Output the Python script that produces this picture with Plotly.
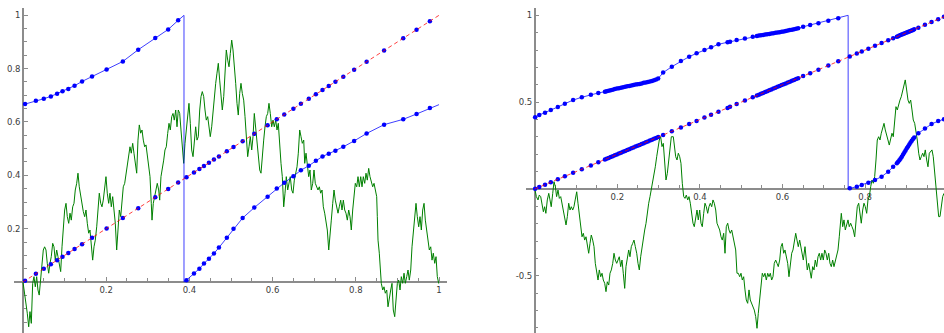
import plotly.graph_objects as go

# ---------------- LEFT PANEL DATA ----------------
# orbit points: x positions and their image f(x)
left_orbit_x = [0.005, 0.031, 0.050, 0.067, 0.082, 0.095, 0.109, 0.124, 0.142, 0.166,
                0.201, 0.240, 0.277, 0.318, 0.349, 0.373,
                0.393, 0.411, 0.424, 0.435, 0.447, 0.459, 0.471, 0.490, 0.506, 0.528,
                0.556, 0.588, 0.610, 0.628, 0.650, 0.668, 0.687, 0.704, 0.720, 0.735,
                0.751, 0.770, 0.796, 0.826, 0.868, 0.914, 0.946, 0.978]
left_orbit_fx = [0.667, 0.680, 0.687, 0.696, 0.706, 0.715, 0.724, 0.736, 0.752, 0.771,
                 0.797, 0.827, 0.871, 0.915, 0.947, 0.981,
                 0.007, 0.032, 0.050, 0.069, 0.087, 0.107, 0.129, 0.166, 0.200, 0.240,
                 0.279, 0.320, 0.351, 0.372, 0.397, 0.419, 0.436, 0.455, 0.471, 0.481,
                 0.492, 0.507, 0.529, 0.557, 0.590, 0.610, 0.630, 0.652]
left_jump_x = 0.387
left_f_start = 0.665
left_f_end = 0.665

left_walk_x = [0.0, 0.0055, 0.0103, 0.0137, 0.0168, 0.020, 0.0233, 0.0264, 0.0296, 0.0329,
               0.036, 0.039, 0.0425, 0.0457, 0.0488, 0.052, 0.0553, 0.0584, 0.0618, 0.0649,
               0.068, 0.0714, 0.0745, 0.0776, 0.081, 0.0841, 0.0873, 0.0906, 0.0938, 0.0969,
               0.1002, 0.1034, 0.1065, 0.1099, 0.113, 0.1161, 0.1195, 0.1226, 0.1257, 0.1291,
               0.1322, 0.1353, 0.1387, 0.1418, 0.145, 0.1483, 0.1514, 0.1546, 0.1579, 0.161,
               0.1642, 0.1675, 0.1707, 0.1738, 0.1772, 0.1803, 0.1834, 0.1868, 0.1899, 0.193,
               0.1964, 0.1995, 0.2026, 0.206, 0.2091, 0.2123, 0.2156, 0.2188, 0.2219, 0.2252,
               0.2284, 0.2315, 0.2349, 0.238, 0.2411, 0.2445, 0.2476, 0.2507, 0.2541, 0.2572,
               0.2603, 0.2637, 0.2668, 0.27, 0.2733, 0.2764, 0.2796, 0.2829, 0.2861, 0.2892,
               0.2925, 0.2957, 0.2988, 0.3022, 0.3053, 0.3084, 0.3101, 0.3132, 0.3166, 0.3197,
               0.3228, 0.3262, 0.3286, 0.3317, 0.3349, 0.3382, 0.3413, 0.3445, 0.3478, 0.351,
               0.3541, 0.3575, 0.3606, 0.3637, 0.3671, 0.3702, 0.3733, 0.3767, 0.3798, 0.3829,
               0.3863, 0.3894, 0.3925, 0.3959, 0.399, 0.4022, 0.4055, 0.4087, 0.4118, 0.4151,
               0.4183, 0.4214, 0.4248, 0.4279, 0.431, 0.4344, 0.4375, 0.4406, 0.444, 0.4471,
               0.4502, 0.4536, 0.4567, 0.4599, 0.4632, 0.4663, 0.4695, 0.4728, 0.476, 0.4791,
               0.4825, 0.4856, 0.4887, 0.4921, 0.4952, 0.4983, 0.5017, 0.5048, 0.5079, 0.5113,
               0.5144, 0.5175, 0.5209, 0.524, 0.5272, 0.5305, 0.5337, 0.5368, 0.5401, 0.5433,
               0.5464, 0.5498, 0.5529, 0.556, 0.5594, 0.5625, 0.5656, 0.569, 0.5721, 0.5752,
               0.5786, 0.5817, 0.5849, 0.5882, 0.5913, 0.5945, 0.5978, 0.601, 0.6041, 0.6075,
               0.6106, 0.6137, 0.6171, 0.6202, 0.6233, 0.6267, 0.6298, 0.6329, 0.6363, 0.6394,
               0.6425, 0.6459, 0.649, 0.6522, 0.6555, 0.6587, 0.6618, 0.6651, 0.6683, 0.6714,
               0.6748, 0.6772, 0.6803, 0.6834, 0.6868, 0.6899, 0.693, 0.6964, 0.6995, 0.7026,
               0.706, 0.7091, 0.7123, 0.7156, 0.7188, 0.7219, 0.7252, 0.7284, 0.7315, 0.7349,
               0.738, 0.7411, 0.7445, 0.7476, 0.7507, 0.7541, 0.7572, 0.7603, 0.7637, 0.7668,
               0.77, 0.7733, 0.7764, 0.7796, 0.7829, 0.7861, 0.7892, 0.7925, 0.7957, 0.7988,
               0.8022, 0.8053, 0.8084, 0.8118, 0.8149, 0.818, 0.8214, 0.8245, 0.8276, 0.831,
               0.8341, 0.8373, 0.8406, 0.8438, 0.8469, 0.8502, 0.8517, 0.8534, 0.8565, 0.8599,
               0.8613, 0.8647, 0.8678, 0.8709, 0.8743, 0.8774, 0.8805, 0.8839, 0.887, 0.8901,
               0.8935, 0.8966, 0.8998, 0.9031, 0.9063, 0.9094, 0.9127, 0.9159, 0.919, 0.9224,
               0.9255, 0.9286, 0.932, 0.9351, 0.9382, 0.9416, 0.9447, 0.9478, 0.9512, 0.9543,
               0.9575, 0.9608, 0.964, 0.9671, 0.9704, 0.9736, 0.9767, 0.9801, 0.9832, 0.9863,
               0.9897, 0.9928, 0.9959, 0.9993, 1.0]
left_walk_y = [0.0, -0.055, -0.117, -0.168, -0.111, -0.155, -0.005, 0.020, -0.018, 0.020,
               -0.030, -0.049, 0.020, 0.070, 0.120, 0.132, 0.120, 0.070, 0.033, 0.070,
               0.095, 0.145, 0.132, 0.082, 0.120, 0.095, 0.070, 0.039, 0.132, 0.207,
               0.270, 0.295, 0.245, 0.220, 0.258, 0.232, 0.282, 0.295, 0.345, 0.370,
               0.408, 0.357, 0.320, 0.295, 0.264, 0.245, 0.270, 0.220, 0.183, 0.195,
               0.145, 0.082, 0.132, 0.157, 0.207, 0.282, 0.333, 0.295, 0.282, 0.307,
               0.357, 0.395, 0.333, 0.295, 0.333, 0.282, 0.320, 0.258, 0.220, 0.120,
               0.220, 0.270, 0.245, 0.295, 0.357, 0.370, 0.408, 0.432, 0.470, 0.507,
               0.483, 0.520, 0.483, 0.445, 0.408, 0.532, 0.589, 0.558, 0.570, 0.532,
               0.507, 0.514, 0.470, 0.420, 0.395, 0.295, 0.232, 0.295, 0.320, 0.345,
               0.370, 0.345, 0.307, 0.395, 0.420, 0.457, 0.495, 0.507, 0.557, 0.595,
               0.570, 0.620, 0.632, 0.607, 0.645, 0.582, 0.645, 0.632, 0.570, 0.507,
               0.445, 0.520, 0.570, 0.632, 0.670, 0.595, 0.495, 0.470, 0.520, 0.582,
               0.532, 0.545, 0.645, 0.695, 0.714, 0.695, 0.645, 0.607, 0.620, 0.582,
               0.545, 0.582, 0.645, 0.695, 0.745, 0.783, 0.820, 0.757, 0.695, 0.645,
               0.695, 0.795, 0.870, 0.832, 0.807, 0.857, 0.907, 0.870, 0.820, 0.745,
               0.670, 0.626, 0.707, 0.745, 0.707, 0.682, 0.620, 0.532, 0.470, 0.507,
               0.545, 0.495, 0.545, 0.632, 0.582, 0.520, 0.495, 0.420, 0.408, 0.483,
               0.532, 0.582, 0.620, 0.632, 0.670, 0.632, 0.582, 0.607, 0.582, 0.607,
               0.570, 0.595, 0.507, 0.445, 0.395, 0.282, 0.333, 0.395, 0.345, 0.370,
               0.395, 0.345, 0.333, 0.382, 0.408, 0.432, 0.483, 0.570, 0.545, 0.520,
               0.532, 0.445, 0.483, 0.445, 0.395, 0.420, 0.345, 0.370, 0.420, 0.370,
               0.357, 0.345, 0.357, 0.333, 0.345, 0.282, 0.258, 0.220, 0.195, 0.120,
               0.195, 0.232, 0.295, 0.345, 0.307, 0.282, 0.258, 0.282, 0.307, 0.270,
               0.307, 0.270, 0.258, 0.232, 0.270, 0.245, 0.195, 0.270, 0.320, 0.370,
               0.357, 0.395, 0.357, 0.395, 0.357, 0.395, 0.370, 0.408, 0.382, 0.426,
               0.395, 0.370, 0.357, 0.370, 0.345, 0.320, 0.245, 0.157, 0.108, 0.045,
               -0.005, -0.030, -0.018, -0.042, -0.030, -0.093, -0.055, -0.030, -0.005, -0.105,
               -0.130, -0.055, -0.005, 0.007, -0.030, 0.020, -0.005, 0.033, -0.005, 0.020,
               0.045, 0.007, 0.045, 0.132, 0.195, 0.245, 0.295, 0.245, 0.207, 0.245,
               0.195, 0.270, 0.295, 0.232, 0.195, 0.170, 0.120, 0.132, 0.082, 0.108,
               0.070, 0.095, 0.020, -0.005, -0.004]

# ---------------- RIGHT PANEL DATA ----------------
right_orbit_x = [0.001, 0.011, 0.025, 0.039, 0.056, 0.073, 0.093, 0.114, 0.136, 0.154, 0.170,
                 0.174, 0.179, 0.184, 0.189, 0.194, 0.199, 0.204, 0.209, 0.214, 0.219, 0.224,
                 0.229, 0.234, 0.239, 0.244, 0.249, 0.254, 0.259, 0.264, 0.269, 0.274, 0.279,
                 0.284, 0.289, 0.294, 0.299,
                 0.311, 0.332, 0.354, 0.374, 0.392, 0.411, 0.427, 0.445, 0.467, 0.473, 0.489,
                 0.509, 0.528,
                 0.538, 0.543, 0.548, 0.553, 0.558, 0.563, 0.568, 0.573, 0.578, 0.583, 0.588,
                 0.593, 0.598, 0.603, 0.608, 0.613, 0.618, 0.623, 0.628, 0.633, 0.638,
                 0.650, 0.667, 0.687, 0.711, 0.735,
                 0.763, 0.780, 0.792, 0.808, 0.824, 0.840, 0.856, 0.868,
                 0.877, 0.880, 0.883, 0.886, 0.889, 0.892, 0.895, 0.898, 0.901, 0.904, 0.907,
                 0.910, 0.913, 0.916, 0.919,
                 0.929, 0.945, 0.961, 0.977, 0.991]
right_orbit_fx = [0.413, 0.426, 0.439, 0.455, 0.472, 0.491, 0.512, 0.528, 0.543, 0.553, 0.560,
                  0.563, 0.566, 0.569, 0.572, 0.575, 0.578, 0.580, 0.583, 0.586, 0.588, 0.591,
                  0.593, 0.596, 0.598, 0.601, 0.603, 0.605, 0.608, 0.611, 0.613, 0.616, 0.619,
                  0.622, 0.626, 0.630, 0.636,
                  0.670, 0.704, 0.737, 0.762, 0.781, 0.800, 0.816, 0.833, 0.845, 0.848, 0.858,
                  0.867, 0.877,
                  0.881, 0.883, 0.885, 0.887, 0.889, 0.891, 0.893, 0.895, 0.897, 0.899, 0.901,
                  0.903, 0.905, 0.907, 0.910, 0.912, 0.915, 0.917, 0.920, 0.922, 0.925,
                  0.934, 0.944, 0.954, 0.969, 0.983,
                  0.004, 0.013, 0.023, 0.036, 0.052, 0.071, 0.100, 0.128,
                  0.148, 0.157, 0.166, 0.176, 0.186, 0.198, 0.210, 0.222, 0.234, 0.245, 0.256,
                  0.267, 0.278, 0.288, 0.296,
                  0.321, 0.349, 0.374, 0.391, 0.401]
right_jump_x = 0.759
right_f_start = 0.413

right_walk_x = [0.0, 0.004, 0.008, 0.011, 0.0145, 0.0177, 0.021, 0.024, 0.027, 0.0305,
                0.034, 0.037, 0.040, 0.0436, 0.0467, 0.050, 0.053, 0.0564, 0.0596, 0.063,
                0.066, 0.069, 0.0726, 0.0758, 0.079, 0.0823, 0.0855, 0.0886, 0.092, 0.095,
                0.098, 0.1017, 0.1048, 0.108, 0.1114, 0.1145, 0.1177, 0.121, 0.1242, 0.1274,
                0.1307, 0.1339, 0.137, 0.1404, 0.1436, 0.1467, 0.1501, 0.1533, 0.1564, 0.1598,
                0.163, 0.1661, 0.1695, 0.1726, 0.1758, 0.1792, 0.1823, 0.1855, 0.1889, 0.192,
                0.1952, 0.1985, 0.2017, 0.2048, 0.2082, 0.2114, 0.2145, 0.2179, 0.221, 0.2242,
                0.2276, 0.2307, 0.2339, 0.2373, 0.2404, 0.2436, 0.247, 0.2501, 0.2533, 0.2566,
                0.2598, 0.263, 0.2663, 0.2695, 0.2726, 0.276, 0.2792, 0.2823, 0.2857, 0.2889,
                0.292, 0.2954, 0.2985, 0.3017, 0.305, 0.3082, 0.3114, 0.3148, 0.3179, 0.3211,
                0.3245, 0.3276, 0.3308, 0.3356, 0.338, 0.3414, 0.3446, 0.3477, 0.3511, 0.3542,
                0.3574, 0.3608, 0.3639, 0.3671, 0.3705, 0.3736, 0.3768, 0.3801, 0.3833, 0.3864,
                0.3898, 0.393, 0.3961, 0.3995, 0.4027, 0.4058, 0.4092, 0.4123, 0.4155, 0.4189,
                0.422, 0.4252, 0.4286, 0.4317, 0.4349, 0.4383, 0.4414, 0.4446, 0.4479, 0.4511,
                0.4542, 0.4576, 0.4608, 0.4639, 0.4673, 0.4705, 0.4736, 0.477, 0.4801, 0.4833,
                0.4867, 0.4898, 0.493, 0.4964, 0.4995, 0.5027, 0.506, 0.5092, 0.5123, 0.5157,
                0.5189, 0.522, 0.5254, 0.5286, 0.5317, 0.5351, 0.5383, 0.5414, 0.5448, 0.5479,
                0.5511, 0.5545, 0.5576, 0.5608, 0.5642, 0.5673, 0.5705, 0.5738, 0.577, 0.5801,
                0.5835, 0.5867, 0.5898, 0.5932, 0.5964, 0.5995, 0.6029, 0.606, 0.6092, 0.6126,
                0.6157, 0.6189, 0.6223, 0.6254, 0.6286, 0.632, 0.6351, 0.6382, 0.6416, 0.6465,
                0.6504, 0.6545, 0.6569, 0.66, 0.6634, 0.6666, 0.6697, 0.6731, 0.6763, 0.6794,
                0.6828, 0.686, 0.6891, 0.6925, 0.6956, 0.6988, 0.7022, 0.7053, 0.7085, 0.7119,
                0.715, 0.7182, 0.7215, 0.7247, 0.7279, 0.7312, 0.7344, 0.7375, 0.7409, 0.7424,
                0.7458, 0.7489, 0.7521, 0.7554, 0.7586, 0.7617, 0.7651, 0.7683, 0.7714, 0.7748,
                0.778, 0.7811, 0.7845, 0.7877, 0.7908, 0.7942, 0.7973, 0.8005, 0.8039, 0.807,
                0.8102, 0.8136, 0.8167, 0.8199, 0.8232, 0.8264, 0.8295, 0.8329, 0.8361, 0.8392,
                0.8426, 0.8458, 0.8489, 0.8523, 0.8554, 0.8586, 0.862, 0.8651, 0.8683, 0.8717,
                0.8748, 0.878, 0.8814, 0.8845, 0.8876, 0.891, 0.8942, 0.8973, 0.9007, 0.9039,
                0.907, 0.9104, 0.9136, 0.9167, 0.9201, 0.9232, 0.9264, 0.9298, 0.9329, 0.9361,
                0.9395, 0.9426, 0.9458, 0.9492, 0.9523, 0.9555, 0.9588, 0.962, 0.9651, 0.9685,
                0.9717, 0.9748, 0.9782, 0.9814, 0.9845, 0.9879, 0.991]
right_walk_y = [0.004, -0.044, -0.063, -0.035, -0.044, -0.082, -0.131, -0.102, -0.140, -0.063,
                -0.025, -0.063, -0.102, -0.025, 0.042, 0.013, -0.044, -0.006, -0.054, -0.044,
                -0.082, -0.140, -0.180, -0.207, -0.159, -0.082, -0.121, -0.102, -0.121, -0.102,
                -0.063, -0.016, -0.082, -0.140, -0.217, -0.275, -0.255, -0.294, -0.275, -0.332,
                -0.370, -0.313, -0.265, -0.294, -0.332, -0.428, -0.485, -0.524, -0.466, -0.505,
                -0.485, -0.524, -0.543, -0.591, -0.534, -0.553, -0.485, -0.466, -0.428, -0.370,
                -0.409, -0.428, -0.409, -0.390, -0.447, -0.409, -0.485, -0.572, -0.447, -0.390,
                -0.351, -0.390, -0.332, -0.313, -0.294, -0.332, -0.370, -0.428, -0.466, -0.390,
                -0.332, -0.275, -0.236, -0.198, -0.121, -0.082, -0.044, -0.006, 0.033, 0.071,
                0.128, 0.186, 0.244, 0.282, 0.301, 0.244, 0.263, 0.128, 0.052, 0.090,
                0.167, 0.263, 0.301, 0.301, 0.263, 0.186, 0.167, 0.206, 0.186, 0.148,
                0.033, -0.044, -0.054, -0.035, -0.063, -0.044, -0.082, -0.140, -0.197, -0.217,
                -0.159, -0.121, -0.178, -0.121, -0.197, -0.217, -0.140, -0.082, -0.102, -0.140,
                -0.102, -0.082, -0.102, -0.063, -0.082, -0.121, -0.197, -0.217, -0.236, -0.275,
                -0.294, -0.255, -0.370, -0.217, -0.197, -0.236, -0.255, -0.236, -0.275, -0.294,
                -0.351, -0.485, -0.485, -0.505, -0.485, -0.524, -0.505, -0.581, -0.639, -0.658,
                -0.581, -0.639, -0.658, -0.678, -0.697, -0.735, -0.802, -0.716, -0.620, -0.543,
                -0.485, -0.505, -0.485, -0.524, -0.485, -0.505, -0.485, -0.524, -0.505, -0.428,
                -0.409, -0.428, -0.447, -0.409, -0.332, -0.313, -0.370, -0.351, -0.390, -0.428,
                -0.505, -0.447, -0.370, -0.351, -0.313, -0.255, -0.294, -0.332, -0.294, -0.351,
                -0.409, -0.332, -0.390, -0.466, -0.428, -0.485, -0.514, -0.447, -0.466, -0.409,
                -0.447, -0.390, -0.370, -0.409, -0.370, -0.409, -0.351, -0.370, -0.409, -0.370,
                -0.428, -0.447, -0.409, -0.447, -0.409, -0.390, -0.351, -0.275, -0.178, -0.140,
                -0.217, -0.178, -0.236, -0.197, -0.178, -0.217, -0.197, -0.217, -0.236, -0.275,
                -0.178, -0.102, -0.082, -0.140, -0.197, -0.121, -0.082, -0.102, -0.140, -0.063,
                -0.044, 0.013, 0.052, 0.033, 0.071, 0.167, 0.282, 0.301, 0.282, 0.321,
                0.359, 0.378, 0.340, 0.301, 0.282, 0.253, 0.301, 0.321, 0.301, 0.397,
                0.474, 0.455, 0.493, 0.512, 0.531, 0.570, 0.609, 0.628, 0.570, 0.512,
                0.493, 0.512, 0.455, 0.397, 0.378, 0.340, 0.282, 0.206, 0.167, 0.186,
                0.206, 0.186, 0.225, 0.167, 0.128, 0.206, 0.215, 0.225, 0.186, 0.090,
                0.013, -0.044, -0.159, -0.159, -0.102, -0.044, -0.025]

# axis ranges
left_xrange = [-0.0216, 1.0192]
left_yrange = [-0.1912, 1.0274]
right_xrange = [-0.0211, 0.9911]
right_yrange = [-0.829, 1.042]

left_xticks = [0.2, 0.4, 0.6, 0.8, 1.0]
left_xticktext = ["0.2", "0.4", "0.6", "0.8", "1"]
left_yticks = [0.2, 0.4, 0.6, 0.8, 1.0]
left_yticktext = ["0.2", "0.4", "0.6", "0.8", "1"]
right_xticks = [0.2, 0.4, 0.6, 0.8, 1.0]
right_xticktext = ["0.2", "0.4", "0.6", "0.8", "1"]
right_yticks = [-0.5, 0.5, 1.0]
right_yticktext = ["-0.5", "0.5", "1"]

BLUE = "#0000ff"
GREEN = "#008000"
RED = "#ff0000"
AXIS = "#8c8c8c"
LABEL = "#3c3c3c"

W, H = 944, 333
left_dom_x = [14 / W, 447 / W]
right_dom_x = [526 / W, 1.0]
dom_y = [0.0, (H - 8) / H]


def frac(v, rng):
    return (v - rng[0]) / (rng[1] - rng[0])


def pos_zero(dom, rng):  # paper coordinate of data value 0
    return dom[0] + (dom[1] - dom[0]) * frac(0, rng)


fig = go.Figure()


def add_panel(xa, ya, orbit_x, orbit_fx, jump_x, f_start, f_end, walk_x, walk_y):
    # green walk
    fig.add_trace(go.Scatter(x=walk_x, y=walk_y, mode="lines",
                             line=dict(color=GREEN, width=1), xaxis=xa, yaxis=ya,
                             hoverinfo="skip"))
    # circle map curve: upper branch, jump, lower branch
    up = [(x, f) for x, f in zip(orbit_x, orbit_fx) if x < jump_x]
    lo = [(x, f) for x, f in zip(orbit_x, orbit_fx) if x > jump_x]
    cx = [0.0] + [p[0] for p in up] + [jump_x, jump_x] + [p[0] for p in lo]
    cy = [f_start] + [p[1] for p in up] + [1.0, 0.0] + [p[1] for p in lo]
    if f_end is not None:
        cx.append(1.0)
        cy.append(f_end)
    fig.add_trace(go.Scatter(x=cx, y=cy, mode="lines",
                             line=dict(color=BLUE, width=1), opacity=0.75,
                             xaxis=xa, yaxis=ya, hoverinfo="skip"))
    # dots on the curve
    fig.add_trace(go.Scatter(x=orbit_x, y=orbit_fx, mode="markers",
                             marker=dict(color=BLUE, size=4.5, line=dict(width=0)),
                             xaxis=xa, yaxis=ya, hoverinfo="skip"))
    # dots on the diagonal
    fig.add_trace(go.Scatter(x=orbit_x, y=orbit_x, mode="markers",
                             marker=dict(color=BLUE, size=4.5, line=dict(width=0)),
                             xaxis=xa, yaxis=ya, hoverinfo="skip"))
    # dashed diagonal
    fig.add_trace(go.Scatter(x=[0, 1], y=[0, 1], mode="lines",
                             line=dict(color=RED, width=1, dash="4px,3px"), opacity=0.75,
                             xaxis=xa, yaxis=ya, hoverinfo="skip"))


add_panel("x", "y", left_orbit_x, left_orbit_fx, left_jump_x, left_f_start, left_f_end,
          left_walk_x, left_walk_y)
add_panel("x2", "y2", right_orbit_x, right_orbit_fx, right_jump_x, right_f_start, None,
          right_walk_x, right_walk_y)

font = dict(family="DejaVu Sans", size=8.5, color=LABEL)


def xaxis_cfg(dom, rng, yrng, tv, tt):
    return dict(domain=dom, range=rng, anchor="free", position=pos_zero(dom_y, yrng),
                showline=True, linecolor=AXIS, linewidth=1.5, showgrid=False, zeroline=False,
                tickmode="array", tickvals=tv, ticktext=tt, ticks="inside", ticklen=4,
                tickcolor=AXIS, tickwidth=1, tickfont=font, automargin=False,
                layer="below traces", fixedrange=True,
                minor=dict(dtick=0.05, tick0=0, ticks="inside", ticklen=3,
                           tickcolor=AXIS, tickwidth=1, showgrid=False))


def yaxis_cfg(rng, xdom, xrng, tv, tt, mdt):
    return dict(domain=dom_y, range=rng, anchor="free", position=pos_zero(xdom, xrng),
                showline=True, linecolor=AXIS, linewidth=1.5, showgrid=False, zeroline=False,
                tickmode="array", tickvals=tv, ticktext=tt, ticks="inside", ticklen=4,
                tickcolor=AXIS, tickwidth=1, tickfont=font, automargin=False,
                layer="below traces", fixedrange=True,
                minor=dict(dtick=mdt, tick0=0, ticks="inside", ticklen=3,
                           tickcolor=AXIS, tickwidth=1, showgrid=False))


fig.update_layout(
    width=W, height=H, margin=dict(l=0, r=0, t=0, b=0),
    paper_bgcolor="white", plot_bgcolor="white", showlegend=False,
    xaxis=xaxis_cfg(left_dom_x, left_xrange, left_yrange, left_xticks, left_xticktext),
    yaxis=yaxis_cfg(left_yrange, left_dom_x, left_xrange, left_yticks, left_yticktext, 0.05),
    xaxis2=xaxis_cfg(right_dom_x, right_xrange, right_yrange, right_xticks, right_xticktext),
    yaxis2=yaxis_cfg(right_yrange, right_dom_x, right_xrange, right_yticks, right_yticktext, 0.1),
)

fig.write_html("out.html", config={"displayModeBar": False},
               post_script="document.body.style.margin='0';"
                           "document.body.style.overflow='hidden';")
